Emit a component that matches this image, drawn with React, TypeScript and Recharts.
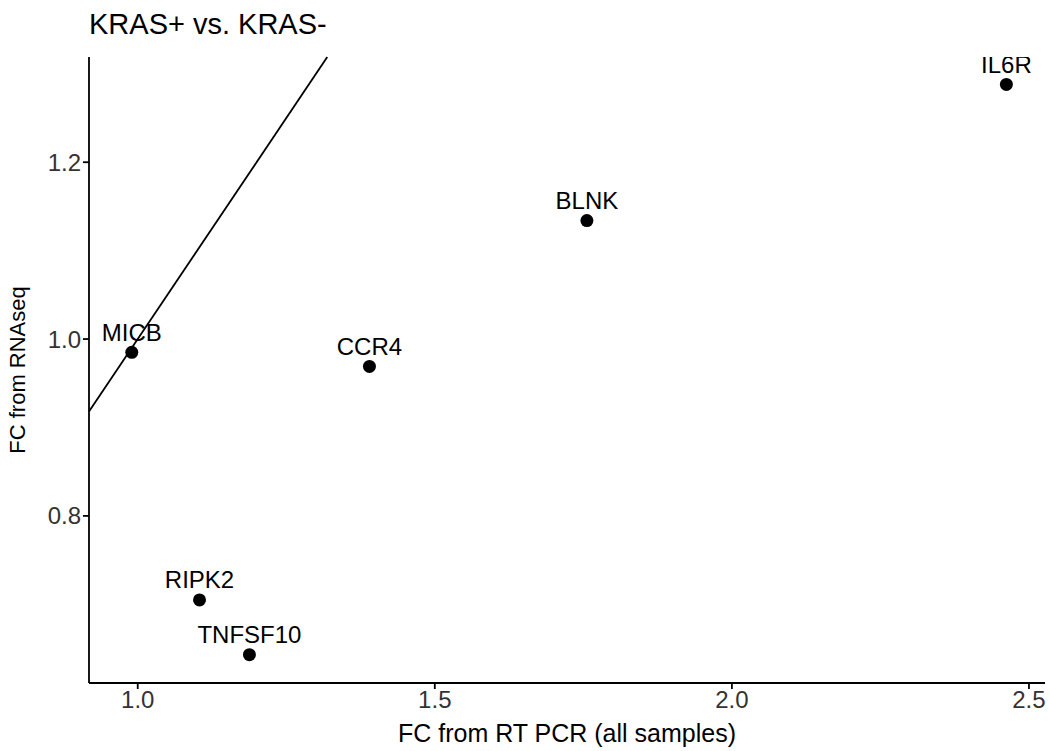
import React from 'react';
import { ScatterChart, Scatter, XAxis, YAxis, ReferenceLine } from 'recharts';

const genes = ['MICB', 'CCR4', 'BLNK', 'IL6R', 'RIPK2', 'TNFSF10'];
const rtPcrFC = [0.99, 1.39, 1.756, 2.462, 1.104, 1.188];
const rnaSeqFC = [0.985, 0.969, 1.134, 1.288, 0.705, 0.643];

const xTicks = [1.0, 1.5, 2.0, 2.5];
const yTicks = [0.8, 1.0, 1.2];
const xDomain: [number, number] = [0.918, 2.527];
const yDomain: [number, number] = [0.611, 1.319];

const points = genes.map((gene, i) => ({ gene, x: rtPcrFC[i], y: rnaSeqFC[i] }));

// y = x line, from where it enters the panel to where it leaves
const lineStart = Math.max(xDomain[0], yDomain[0]);
const lineEnd = Math.min(xDomain[1], yDomain[1]);

const FONT = '"Liberation Sans", Arial, Helvetica, sans-serif';

const LabeledDot = (props: any) => {
  const { cx, cy, payload } = props;
  return (
    <g>
      <circle cx={cx} cy={cy} r={6.5} fill="#000" />
      <text x={cx} y={cy - 11.5} textAnchor="middle" fontSize={24} fontFamily={FONT} fill="#000">
        {payload.gene}
      </text>
    </g>
  );
};

export default function App() {
  return (
    <div style={{ position: 'relative', width: 1050, height: 751, background: '#fff', fontFamily: FONT }}>
      <style>{'body{margin:0}'}</style>
      <div style={{ position: 'absolute', left: 89, top: 10, fontSize: 29, lineHeight: '29px', color: '#000' }}>
        KRAS+ vs. KRAS-
      </div>
      <ScatterChart width={1050} height={751} margin={{ top: 57, right: 5, left: 0, bottom: 0 }}>
        <XAxis
          type="number"
          dataKey="x"
          domain={xDomain}
          ticks={xTicks}
          allowDataOverflow
          height={68}
          tickFormatter={(v: number) => v.toFixed(1)}
          axisLine={{ stroke: '#000', strokeWidth: 1.8 }}
          tickLine={{ stroke: '#000', strokeWidth: 1.8 }}
          tickSize={6}
          tick={{ fill: '#333', fontSize: 24, fontFamily: FONT }}
          label={{ value: 'FC from RT PCR (all samples)', position: 'insideBottom', offset: 9, fill: '#000', fontSize: 25, fontFamily: FONT }}
        />
        <YAxis
          type="number"
          dataKey="y"
          domain={yDomain}
          ticks={yTicks}
          allowDataOverflow
          width={89}
          tickFormatter={(v: number) => v.toFixed(1)}
          axisLine={{ stroke: '#000', strokeWidth: 1.8 }}
          tickLine={{ stroke: '#000', strokeWidth: 1.8 }}
          tickSize={6}
          tick={{ fill: '#333', fontSize: 24, fontFamily: FONT }}
          label={{ value: 'FC from RNAseq', angle: -90, position: 'insideLeft', offset: 17, fill: '#000', fontSize: 22, fontFamily: FONT, style: { textAnchor: 'middle' } }}
        />
        <ReferenceLine
          segment={[{ x: lineStart, y: lineStart }, { x: lineEnd, y: lineEnd }]}
          stroke="#000"
          strokeWidth={1.8}
        />
        <Scatter data={points} shape={LabeledDot} isAnimationActive={false} />
      </ScatterChart>
    </div>
  );
}
